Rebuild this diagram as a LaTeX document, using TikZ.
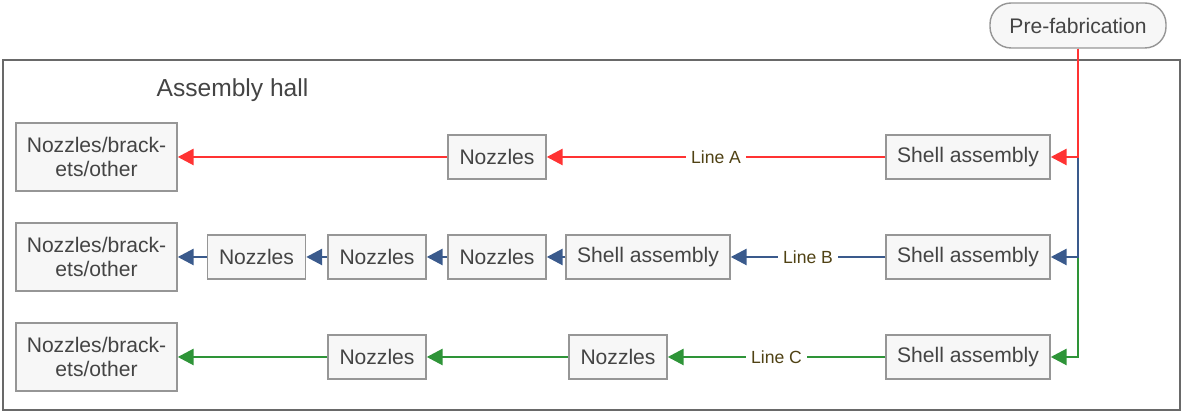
\documentclass[tikz,border=0pt]{standalone}
\usepackage{fontspec}
\setmainfont{Liberation Sans}
\usepackage{xcolor}
\usetikzlibrary{arrows.meta}
\usetikzlibrary{math}
\definecolor{linered}{RGB}{255,51,51}
\definecolor{lineblue}{RGB}{58,90,140}
\definecolor{linegreen}{RGB}{46,148,56}
\definecolor{boxgray}{RGB}{150,150,150}
\definecolor{boxfill}{RGB}{247,247,247}
\definecolor{txtgray}{RGB}{68,68,68}
\definecolor{lbltxt}{RGB}{80,66,20}

\tikzset{
  station/.style={draw=boxgray, line width=0.8pt, fill=boxfill, text=txtgray,
    font=\fontsize{12}{14}\selectfont, minimum height=0.88cm, inner sep=2pt, align=center},
  flow/.style={line width=1.6pt, -{Triangle[length=9pt,width=9pt]}},
  linelbl/.style={fill=white, text=lbltxt, font=\fontsize{10}{12}\selectfont, inner sep=3pt},
}

\begin{document}
\begin{tikzpicture}
\tikzmath{
\ya=5.10;
\yb=3.10;
\yc=1.10;
\xs=19.36;
\xe=1.93;
}
\useasboundingbox (0,0) rectangle (23.64,8.24);

% hall outline
\draw[color=txtgray!80, line width=1.1pt] (0.06,0.04) rectangle (23.60,7.04);
\node[text=txtgray, font=\fontsize{14}{16}\selectfont] (hall) at (4.65,6.44) {Assembly hall};

\node[station, rounded corners=12pt, minimum width=3.52cm, minimum height=0.9cm] (prefab) at (21.56,7.73) {Pre-fabrication};

% line A
\node[station, minimum width=3.28cm] (shellA) at (\xs,\ya) {Shell assembly};
\node[station, minimum width=1.96cm] (nozA) at (9.94,\ya) {Nozzles};
\node[station, minimum width=3.22cm, minimum height=1.36cm] (endA) at (\xe,\ya) {Nozzles/brack-\\ets/other};

% line B
\node[station, minimum width=3.28cm] (shellB) at (\xs,\yb) {Shell assembly};
\node[station, minimum width=3.28cm] (shellBb) at (12.96,\yb) {Shell assembly};
\node[station, minimum width=1.96cm] (nozBa) at (9.94,\yb) {Nozzles};
\node[station, minimum width=1.96cm] (nozBb) at (7.54,\yb) {Nozzles};
\node[station, minimum width=1.96cm] (nozBc) at (5.13,\yb) {Nozzles};
\node[station, minimum width=3.22cm, minimum height=1.36cm] (endB) at (\xe,\yb) {Nozzles/brack-\\ets/other};

% line C
\node[station, minimum width=3.28cm] (shellC) at (\xs,\yc) {Shell assembly};
\node[station, minimum width=1.96cm] (nozCa) at (12.36,\yc) {Nozzles};
\node[station, minimum width=1.96cm] (nozCb) at (7.54,\yc) {Nozzles};
\node[station, minimum width=3.22cm, minimum height=1.36cm] (endC) at (\xe,\yc) {Nozzles/brack-\\ets/other};

% feed from pre-fabrication, red on top
\draw[flow, color=linegreen] (prefab.south) |- (shellC.east);
\draw[flow, color=lineblue] (prefab.south) |- (shellB.east);
\draw[flow, color=linered] (prefab.south) |- (shellA.east);

\draw[flow, color=linered] (shellA) -- (nozA) node[midway, linelbl]{Line A};
\draw[flow, color=linered] (nozA) -- (endA);

\draw[flow, color=lineblue] (shellB) -- (shellBb) node[midway, linelbl]{Line B};
\draw[flow, color=lineblue] (shellBb) -- (nozBa);
\draw[flow, color=lineblue] (nozBa) -- (nozBb);
\draw[flow, color=lineblue] (nozBb) -- (nozBc);
\draw[flow, color=lineblue] (nozBc) -- (endB);

\draw[flow, color=linegreen] (shellC) -- (nozCa) node[midway, linelbl]{Line C};
\draw[flow, color=linegreen] (nozCa) -- (nozCb);
\draw[flow, color=linegreen] (nozCb) -- (endC);
\end{tikzpicture}
\end{document}
